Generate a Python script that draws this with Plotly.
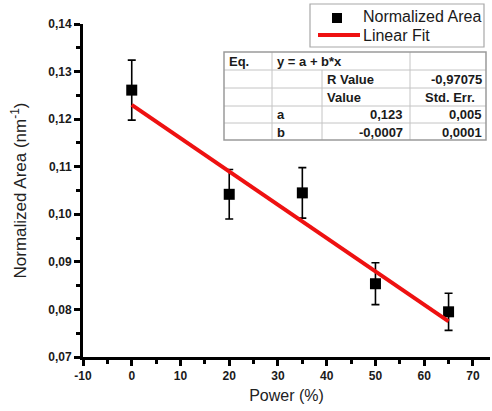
import numpy as np
import plotly.graph_objects as go

# Measured normalized area vs. laser power
power = [0, 20, 35, 50, 65]
norm_area = [0.1261, 0.1042, 0.1045, 0.0854, 0.0795]
area_err = [0.0063, 0.0052, 0.0053, 0.0044, 0.0039]

# Linear fit parameters y = a + b*x
fit_a = 0.123
fit_b = -0.0007
fit_a_err = 0.005
fit_b_err = 0.0001
fit_r = -0.97075

# Axis ticks
x_ticks = [-10, 0, 10, 20, 30, 40, 50, 60, 70]
x_tick_labels = ["-10", "0", "10", "20", "30", "40", "50", "60", "70"]

FONT = "Arial, Liberation Sans, sans-serif"
INK = "#1a1a1a"

fit_x = np.array([min(power), max(power)], dtype=float)
fit_y = fit_a + fit_b * fit_x

fig = go.Figure()
fig.add_trace(go.Scatter(
    x=power, y=norm_area, mode="markers", name="Normalized Area",
    marker=dict(symbol="square", size=11, color="black"),
    error_y=dict(type="data", array=area_err, visible=True,
                 color="black", thickness=1.6, width=4),
    showlegend=False,
))
fig.add_trace(go.Scatter(
    x=fit_x, y=fit_y, mode="lines", name="Linear Fit",
    line=dict(color="#ee1111", width=4),
    showlegend=False,
))

# plot-area geometry in pixels, used to place the legend and fit table
W, H = 492, 411
L, R, T, B = 83, 2, 24, 54
PW, PH = W - L - R, H - T - B


def px(x):
    return (x - L) / PW


def py(y):
    return (H - B - y) / PH


shapes = []
annots = []


def pline(x0, y0, x1, y1, color, width):
    shapes.append(dict(type="line", xref="paper", yref="paper",
                       x0=px(x0), x1=px(x1), y0=py(y0), y1=py(y1),
                       line=dict(color=color, width=width)))


def ptext(text, x, y, anchor, size, bold=False):
    annots.append(dict(text=f"<b>{text}</b>" if bold else text,
                       xref="paper", yref="paper", x=px(x), y=py(y),
                       xanchor=anchor, yanchor="middle", showarrow=False,
                       font=dict(family=FONT, size=size, color=INK)))


# ---- legend box ----
shapes.append(dict(type="rect", xref="paper", yref="paper",
                   x0=px(310), x1=px(484), y0=py(4), y1=py(47),
                   line=dict(color="#a8a8a8", width=1.2), fillcolor="white"))
shapes.append(dict(type="rect", xref="paper", yref="paper",
                   x0=px(332), x1=px(342), y0=py(13), y1=py(23),
                   line=dict(color="black", width=0), fillcolor="black"))
pline(318, 35, 360, 35, "#ee1111", 4)
ptext("Normalized Area", 361, 17, "left", 16)
ptext("Linear Fit", 361, 35, "left", 16)

# ---- fit result table ----
cols = [224, 272, 322, 410, 486]
rows = [52, 70, 88, 106, 123, 140]
grid = "#c4c4c4"
for r in rows[1:-1]:
    pline(cols[0], r, cols[-1], r, grid, 1)
pline(cols[1], rows[0], cols[1], rows[-1], grid, 1)
pline(cols[2], rows[1], cols[2], rows[-1], grid, 1)
pline(cols[3], rows[0], cols[3], rows[-1], grid, 1)
shapes.append(dict(type="rect", xref="paper", yref="paper",
                   x0=px(cols[0]), x1=px(cols[-1]), y0=py(rows[0]), y1=py(rows[-1]),
                   line=dict(color="#9a9a9a", width=1.5), fillcolor="rgba(0,0,0,0)"))


def cell(text, x, row, anchor):
    ptext(text, x, (rows[row] + rows[row + 1]) / 2 + 0.5, anchor, 13, bold=True)


def num(v, nd):
    return f"{v:.{nd}f}".replace(".", ",")


cell("Eq.", 227, 0, "left")
cell("y = a + b*x", 275, 0, "left")
cell("R Value", 325, 1, "left")
cell(num(fit_r, 5), 484, 1, "right")
cell("Value", 325, 2, "left")
cell("Std. Err.", 477, 2, "right")
cell("a", 275, 3, "left")
cell(num(fit_a, 3), 405, 3, "right")
cell(num(fit_a_err, 3), 484, 3, "right")
cell("b", 275, 4, "left")
cell(num(fit_b, 4), 405, 4, "right")
cell(num(fit_b_err, 4), 484, 4, "right")

axis_common = dict(
    showline=True, linecolor="black", linewidth=3, mirror=False,
    ticks="outside", ticklen=6, tickwidth=2.5, tickcolor="black",
    showgrid=False, zeroline=False,
    tickfont=dict(family=FONT, size=12, color=INK, weight="bold"),
)

fig.update_layout(
    width=W, height=H,
    margin=dict(l=L, r=R, t=T, b=B),
    paper_bgcolor="white", plot_bgcolor="white",
    separators=",.",
    font=dict(family=FONT, color=INK),
    xaxis=dict(
        range=[-10, 73.5], tickmode="array", tickvals=x_ticks, ticktext=x_tick_labels,
        title=dict(text="Power (%)", font=dict(family=FONT, size=16, color="#222"),
                   standoff=8),
        minor=dict(ticks="outside", ticklen=4, tickwidth=2.5, dtick=5,
                   tickcolor="black"),
        **axis_common,
    ),
    yaxis=dict(
        range=[0.07, 0.14], tickmode="linear", tick0=0.07, dtick=0.01,
        tickformat=".2f",
        title=dict(text="Normalized Area (nm<sup>-1</sup>)",
                   font=dict(family=FONT, size=17, color="#222"), standoff=18),
        minor=dict(ticks="outside", ticklen=4, tickwidth=2.5, dtick=0.005,
                   tickcolor="black"),
        **axis_common,
    ),
    shapes=shapes,
    annotations=annots,
    showlegend=False,
)

fig.write_html("out.html")
